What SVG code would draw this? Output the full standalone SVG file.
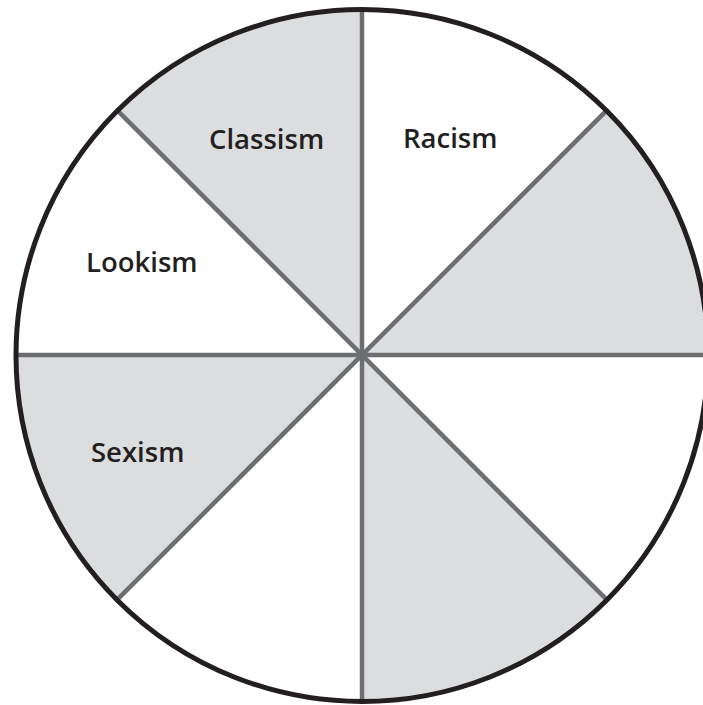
<svg xmlns="http://www.w3.org/2000/svg" width="703" height="705" viewBox="0 0 703 705">
<style>
.shade{fill:#dcdddf}
.spoke{stroke:#6d6e71;stroke-width:4.5;fill:none}
.rim{stroke:#231f20;stroke-width:5;fill:none}
.lbl{font-family:"Open Sans","Noto Sans",sans-serif;font-weight:600;font-size:27.5px;fill:#231f20}
</style>
<rect width="703" height="705" fill="#ffffff"/>
<g id="sectors">
<path class="shade" d="M362,355 L362,9 A346,346 0 0 0 117.3,110.3 Z"/>
<path class="shade" d="M362,355 L606.7,110.3 A346,346 0 0 1 708,355 Z"/>
<path class="shade" d="M362,355 L606.7,599.7 A346,346 0 0 1 362,701 Z"/>
<path class="shade" d="M362,355 L16,355 A346,346 0 0 0 117.3,599.7 Z"/>
</g>
<g id="connectors">
<line class="spoke" x1="362" y1="9" x2="362" y2="701"/>
<line class="spoke" x1="16" y1="355" x2="708" y2="355"/>
<line class="spoke" x1="117.3" y1="110.3" x2="606.7" y2="599.7"/>
<line class="spoke" x1="606.7" y1="110.3" x2="117.3" y2="599.7"/>
</g>
<circle id="rim" class="rim" cx="362" cy="355.5" r="346"/>
<g id="classism"><text class="lbl" x="209" y="148.5">Classism</text></g>
<g id="racism"><text class="lbl" x="403" y="147.5">Racism</text></g>
<g id="lookism"><text class="lbl" x="86" y="272">Lookism</text></g>
<g id="sexism"><text class="lbl" x="91" y="461.5">Sexism</text></g>
</svg>
